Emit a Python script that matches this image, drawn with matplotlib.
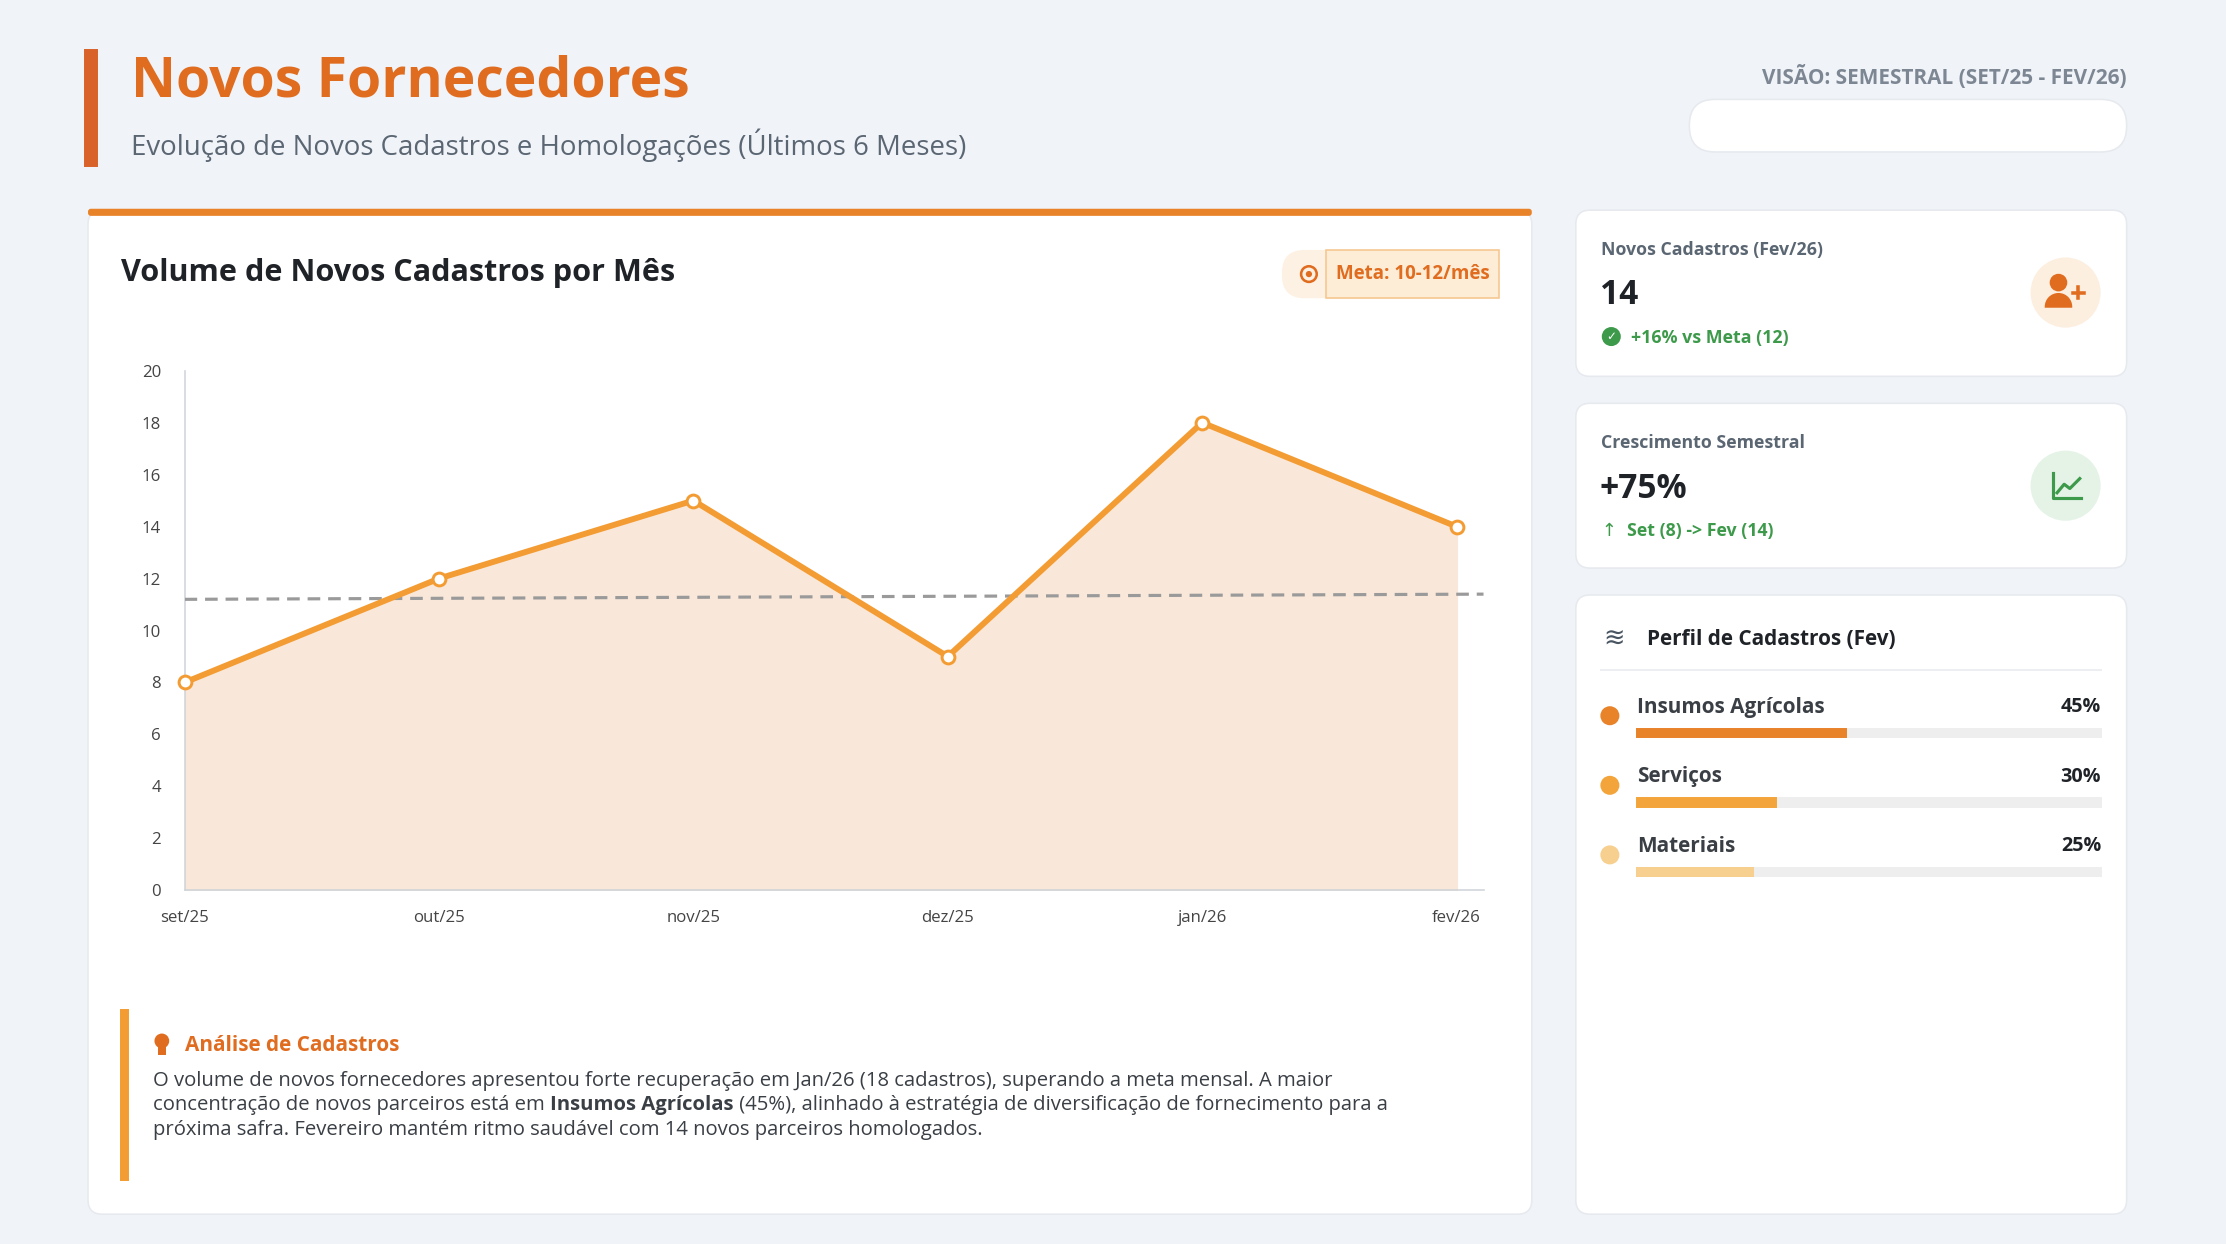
import matplotlib.pyplot as plt
from matplotlib.patches import FancyBboxPatch, Rectangle, Circle, Wedge

plt.rcParams['font.family'] = ['Open Sans', 'DejaVu Sans']

meses = ['set/25', 'out/25', 'nov/25', 'dez/25', 'jan/26', 'fev/26']
cadastros = [8, 12, 15, 9, 18, 14]
meta_linha = [11.2, 11.4]
perfil_nomes = ['Insumos Agrícolas', 'Serviços', 'Materiais']
perfil_pct = [45, 30, 25]
perfil_cores = ['#e8832a', '#f3a53b', '#f7cf8e']

W, H = 1568, 876
DPI = 142
fig = plt.figure(figsize=(2226 / DPI, 1244 / DPI), dpi=DPI)
fig.patch.set_facecolor('#f0f3f8')
bg = fig.add_axes([0, 0, 1, 1])
bg.set_xlim(0, W)
bg.set_ylim(H, 0)
bg.axis('off')

ORANGE = '#e06c1f'
DARK = '#1f2328'
GREY = '#5b6673'


def card(x0, y0, x1, y1, r=10, fc='white'):
    bg.add_patch(FancyBboxPatch((x0, y0), x1 - x0, y1 - y0,
                                boxstyle=f'round,pad=0,rounding_size={r}',
                                fc=fc, ec='#e6e9ee', lw=0.8))


# header
bg.add_patch(Rectangle((60, 35), 8, 82, color='#d9622b'))
bg.text(92, 58, 'Novos Fornecedores', fontsize=28, fontweight='bold', color=ORANGE, va='center')
bg.text(92, 102, 'Evolução de Novos Cadastros e Homologações (Últimos 6 Meses)', fontsize=14,
        color=GREY, va='center')
bg.text(1498, 54, 'VISÃO: SEMESTRAL (SET/25 - FEV/26)', fontsize=10.5, fontweight='bold',
        color='#7d8793', ha='right', va='center')
card(1190, 70, 1498, 107, r=18)

# main card
card(62, 148, 1079, 855)
bg.add_patch(FancyBboxPatch((62, 147), 1017, 5, boxstyle='round,pad=0,rounding_size=2',
                            fc='#e8832a', ec='none'))
bg.text(85, 192, 'Volume de Novos Cadastros por Mês', fontsize=15.5, fontweight='bold',
        color=DARK, va='center')
bg.add_patch(FancyBboxPatch((903, 176), 153, 34, boxstyle='round,pad=0,rounding_size=16',
                            fc='#fdf1e3', ec='none'))
bg.add_patch(Rectangle((934, 176), 122, 34, fc='#fdecd6', ec='#f6c58c', lw=0.8))
bg.add_patch(Circle((922, 193), 5.5, fc='none', ec=ORANGE, lw=1.3))
bg.add_patch(Circle((922, 193), 2.2, fc=ORANGE, ec='none'))
bg.text(995, 193, 'Meta: 10-12/mês', fontsize=9.5, fontweight='bold', color=ORANGE,
        ha='center', va='center')

# chart
ax = fig.add_axes([130 / W, 1 - 627 / H, (1045 - 130) / W, (627 - 261) / H])
ax.set_facecolor('none')
x = list(range(len(meses)))
ax.fill_between(x, cadastros, 0, color='#f9e8da')
ax.plot(x, cadastros, color='#f39c33', lw=3, marker='o', ms=6.5,
        mfc='white', mec='#f39c33', mew=1.5, zorder=4, clip_on=False)
ax.plot([0, 5.106], meta_linha, color='#9a9a9a', lw=1.6, ls=(0, (4, 2.5)), zorder=3)
ax.set_xlim(0, 5.106)
ax.set_ylim(0, 20)
ax.set_yticks(range(0, 21, 2))
ax.set_xticks(x)
ax.set_xticklabels(meses)
ax.tick_params(length=0, labelsize=8.5, colors='#444', pad=10)
ax.tick_params(axis='y', pad=12)
for s in ['top', 'right']:
    ax.spines[s].set_visible(False)
for s in ['left', 'bottom']:
    ax.spines[s].set_color('#cfd3d8')

# analysis box
bg.add_patch(Rectangle((85, 711), 5, 120, color='#f39c33'))
bg.add_patch(Circle((114, 733), 4.5, color=ORANGE))
bg.add_patch(Rectangle((112, 737), 4, 5, color=ORANGE))
bg.text(130, 736, 'Análise de Cadastros', fontsize=10.5, fontweight='bold', color=ORANGE, va='center')
txt_kw = dict(fontsize=10.3, color='#3a3f45', va='center')
bg.text(108, 761, 'O volume de novos fornecedores apresentou forte recuperação em Jan/26 (18 cadastros), '
        'superando a meta mensal. A maior', **txt_kw)
t1 = bg.text(108, 778, 'concentração de novos parceiros está em ', **txt_kw)
fig.canvas.draw()
r = fig.canvas.get_renderer()
inv = bg.transData.inverted()
e = inv.transform(t1.get_window_extent(r))[1][0]
t2 = bg.text(e, 778, 'Insumos Agrícolas', fontweight='bold', **txt_kw)
e2 = inv.transform(t2.get_window_extent(r))[1][0]
bg.text(e2, 778, ' (45%), alinhado à estratégia de diversificação de fornecimento para a', **txt_kw)
bg.text(108, 796, 'próxima safra. Fevereiro mantém ritmo saudável com 14 novos parceiros homologados.', **txt_kw)

# KPI cards
card(1110, 148, 1498, 265)
bg.text(1128, 176, 'Novos Cadastros (Fev/26)', fontsize=9, fontweight='bold', color=GREY, va='center')
bg.text(1127, 208, '14', fontsize=17, fontweight='bold', color=DARK, va='center')
bg.add_patch(Circle((1135, 237), 6, color='#3d9a4a'))
bg.text(1135, 237, '✓', fontsize=6, color='white', ha='center', va='center', fontweight='bold',
        family='DejaVu Sans')
bg.text(1149, 238, '+16% vs Meta (12)', fontsize=9, fontweight='bold', color='#3d9a4a', va='center')
bg.add_patch(Circle((1455, 206), 24, color='#fdefe0'))
# person-plus icon
bg.add_patch(Circle((1450, 199), 5.5, color=ORANGE))
bg.add_patch(Wedge((1450, 216), 9, 180, 360, color=ORANGE))
bg.plot([1460, 1468], [206, 206], color=ORANGE, lw=1.8)
bg.plot([1464, 1464], [202, 210], color=ORANGE, lw=1.8)

card(1110, 284, 1498, 400)
bg.text(1128, 312, 'Crescimento Semestral', fontsize=9, fontweight='bold', color=GREY, va='center')
bg.text(1127, 344, '+75%', fontsize=17, fontweight='bold', color=DARK, va='center')
bg.text(1133, 374, '↑', fontsize=9, color='#3d9a4a', ha='center', va='center', family='DejaVu Sans')
bg.text(1146, 374, 'Set (8) -> Fev (14)', fontsize=9, fontweight='bold', color='#3d9a4a', va='center')
bg.add_patch(Circle((1455, 342), 24, color='#e5f3e7'))
bg.plot([1446, 1446, 1466], [333, 351, 351], color='#3d9a4a', lw=1.6)
bg.plot([1449, 1454, 1458, 1465], [347, 341, 344, 337], color='#3d9a4a', lw=1.6)

card(1110, 419, 1498, 855)
bg.text(1137, 450, '≋', fontsize=13, color='#4a5562', ha='center', va='center', family='DejaVu Sans')
bg.text(1160, 450, 'Perfil de Cadastros (Fev)', fontsize=10.5, fontweight='bold', color=DARK, va='center')
bg.plot([1128, 1480], [472, 472], color='#eceef1', lw=1)
for i, (n, p, c) in enumerate(zip(perfil_nomes, perfil_pct, perfil_cores)):
    y = 498 + i * 49
    bg.add_patch(Circle((1134, y + 6), 6, color=c))
    bg.text(1153, y, n, fontsize=10.5, fontweight='bold', color='#3a3f45', va='center')
    bg.text(1480, y, f'{p}%', fontsize=10, fontweight='bold', color=DARK, va='center', ha='right')
    bg.add_patch(Rectangle((1153, y + 15), 327, 6, color='#eeeeee'))
    bg.add_patch(Rectangle((1153, y + 15), 327 * p / 100, 6, color=c))

fig.savefig('out.png', dpi=DPI, facecolor=fig.get_facecolor())
